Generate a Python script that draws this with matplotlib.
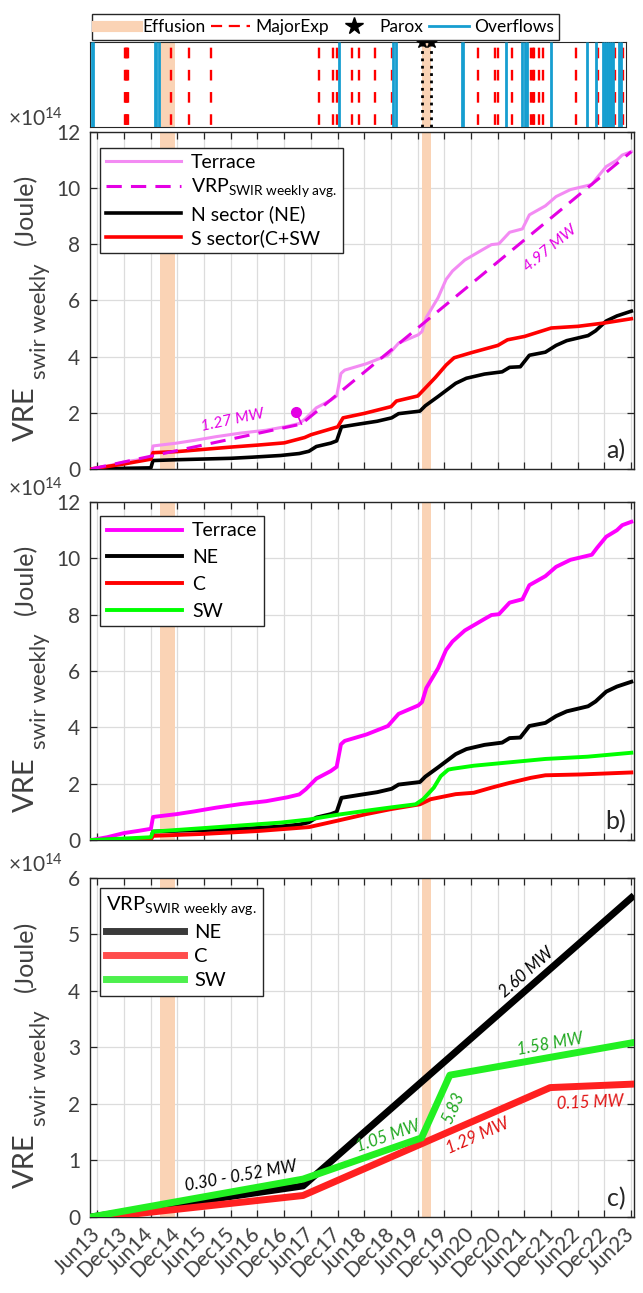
import matplotlib
matplotlib.use('Agg')
import matplotlib.pyplot as plt
from matplotlib.lines import Line2D
import numpy as np

plt.rcParams['font.family'] = ['Lato', 'DejaVu Sans']
plt.rcParams['mathtext.fontset'] = 'custom'
plt.rcParams['mathtext.rm'] = 'Lato'
plt.rcParams['mathtext.it'] = 'Lato:italic'
plt.rcParams['mathtext.bf'] = 'Lato:bold'

# ---- data (time in decimal years, energy in 1e14 J) ----
tick_labels = ['Jun13', 'Dec13', 'Jun14', 'Dec14', 'Jun15', 'Dec15', 'Jun16',
               'Dec16', 'Jun17', 'Dec17', 'Jun18', 'Dec18', 'Jun19', 'Dec19',
               'Jun20', 'Dec20', 'Jun21', 'Dec21', 'Jun22', 'Dec22', 'Jun23']

# events
effusion_start = [2014.60, 2019.50]
effusion_end = [2014.87, 2019.66]
parox = [2019.50, 2019.66]
major_exp = [2013.94, 2013.96, 2013.98, 2014.00, 2014.80, 2015.13, 2015.55,
             2017.57, 2017.83, 2017.91, 2018.19, 2018.31, 2018.62, 2018.93,
             2020.54, 2020.86, 2020.92, 2021.18, 2021.54, 2021.57, 2021.60,
             2021.69, 2021.77, 2022.38, 2022.80, 2023.11, 2023.22, 2023.26]
overflows = [2013.31, 2013.34, 2014.49, 2014.52, 2014.58, 2017.95, 2018.95,
             2019.02, 2020.24, 2020.27, 2021.07, 2021.37, 2021.42, 2021.47,
             2021.91, 2022.59, 2022.76, 2022.88, 2022.92, 2022.96, 2023.00,
             2023.04, 2023.08, 2023.19, 2023.22]

# cumulative VRE, terrace total
t_terrace = [2013.30, 2013.60, 2013.92, 2014.20, 2014.42, 2014.46, 2014.90, 2015.24,
             2015.64, 2016.11, 2016.58, 2016.98, 2017.20, 2017.32, 2017.52, 2017.79,
             2017.90, 2017.98, 2018.05, 2018.46, 2018.86, 2019.06, 2019.43, 2019.50,
             2019.58, 2019.80, 2019.95, 2020.07, 2020.30, 2020.67, 2020.80, 2020.94,
             2021.14, 2021.38, 2021.51, 2021.81, 2022.01, 2022.28, 2022.68, 2022.78,
             2022.95, 2023.15, 2023.25, 2023.42]
terrace = [0.00, 0.10, 0.25, 0.33, 0.40, 0.82, 0.92, 1.02,
           1.15, 1.28, 1.38, 1.52, 1.62, 1.80, 2.18, 2.45,
           2.60, 3.40, 3.52, 3.75, 4.05, 4.48, 4.78, 4.90,
           5.40, 6.10, 6.75, 7.05, 7.44, 7.85, 7.99, 8.02,
           8.43, 8.55, 9.05, 9.37, 9.70, 9.95, 10.13, 10.38,
           10.77, 11.00, 11.18, 11.30]

# N sector (NE)
t_ne = [2013.30, 2014.42, 2014.46, 2014.92, 2015.92, 2016.32, 2016.85, 2017.20,
        2017.38, 2017.52, 2017.79, 2017.90, 2017.99, 2018.32, 2018.66, 2018.93,
        2019.06, 2019.46, 2019.56, 2019.80, 2020.13, 2020.33, 2020.67, 2021.00,
        2021.14, 2021.34, 2021.51, 2021.81, 2022.01, 2022.21, 2022.61, 2022.75,
        2022.95, 2023.15, 2023.42]
ne = [0.00, 0.04, 0.30, 0.33, 0.38, 0.42, 0.48, 0.55,
      0.63, 0.80, 0.92, 1.00, 1.50, 1.60, 1.70, 1.82,
      1.97, 2.06, 2.25, 2.58, 3.05, 3.23, 3.38, 3.46,
      3.62, 3.64, 4.05, 4.16, 4.40, 4.57, 4.75, 4.92,
      5.27, 5.45, 5.62]

# S sector (C+SW)
t_s = [2013.30, 2013.92, 2014.42, 2014.46, 2014.92, 2015.42, 2015.92, 2016.42,
       2016.92, 2017.30, 2017.42, 2017.92, 2018.02, 2018.42, 2018.92, 2019.02,
       2019.42, 2019.52, 2019.75, 2019.95, 2020.10, 2020.42, 2020.92, 2021.10,
       2021.42, 2021.92, 2022.42, 2022.92, 2023.42]
s_sector = [0.00, 0.18, 0.35, 0.58, 0.62, 0.70, 0.78, 0.85,
            0.93, 1.12, 1.22, 1.50, 1.82, 1.98, 2.22, 2.42,
            2.60, 2.80, 3.26, 3.70, 3.96, 4.14, 4.40, 4.60,
            4.72, 5.02, 5.08, 5.20, 5.35]

# C
t_c = [2013.30, 2014.42, 2014.46, 2015.42, 2016.42, 2017.38, 2017.92, 2018.45,
       2018.92, 2019.46, 2019.66, 2020.13, 2020.47, 2020.80, 2021.14, 2021.54,
       2021.81, 2022.48, 2023.42]
c_sector = [0.00, 0.02, 0.15, 0.22, 0.32, 0.46, 0.69, 0.92,
            1.10, 1.27, 1.45, 1.63, 1.68, 1.86, 2.03, 2.21,
            2.30, 2.33, 2.40]

# SW
t_sw = [2013.30, 2014.42, 2014.46, 2015.37, 2016.11, 2016.85, 2017.38, 2017.92,
        2018.45, 2018.92, 2019.38, 2019.52, 2019.72, 2019.85, 2019.99, 2020.07,
        2020.47, 2021.14, 2021.81, 2022.60, 2023.42]
sw_sector = [0.00, 0.10, 0.30, 0.42, 0.52, 0.62, 0.73, 0.90,
             1.04, 1.16, 1.27, 1.45, 1.86, 2.27, 2.50, 2.53,
             2.64, 2.76, 2.88, 2.96, 3.10]

# weekly-average VRP trends
t_vrp = [2013.30, 2017.24, 2023.42]
vrp_terrace = [0.00, 1.60, 11.30]
t_vrp_ne = [2013.30, 2017.27, 2023.42]
vrp_ne = [0.00, 0.55, 5.65]
t_vrp_c = [2013.30, 2017.27, 2021.90, 2023.42]
vrp_c = [-0.03, 0.38, 2.29, 2.35]
t_vrp_sw = [2013.30, 2017.27, 2019.49, 2020.02, 2023.42]
vrp_sw = [0.00, 0.67, 1.40, 2.51, 3.08]
change_t = [2017.14, 2017.24]
change_y = [2.04, 1.60]

# ---- colours ----
peach = '#FAD3B5'
blue = '#169ED0'
pink = '#F38BF3'
magenta = '#E400E4'
grey_txt = '#404040'

tick_pos = [int('20' + s[3:]) + (5 if s[:3] == 'Jun' else 11) / 12 for s in tick_labels]
xlim = (2013.28, 2023.47)

fig = plt.figure(figsize=(6.43, 12.93), dpi=100)
ax_ev = fig.add_axes([0.140, 0.9018, 0.8336, 0.0657])
ax_a = fig.add_axes([0.140, 0.6373, 0.846, 0.2606])
ax_b = fig.add_axes([0.140, 0.3503, 0.846, 0.2614])
ax_c = fig.add_axes([0.140, 0.0588, 0.846, 0.2622])


def style(ax, ymax, ystep, letter):
    ax.set_xlim(*xlim)
    ax.set_ylim(0, ymax)
    ax.set_xticks(tick_pos)
    ax.set_yticks(np.arange(0, ymax + 0.1, ystep))
    ax.grid(True, color='#dcdcdc', lw=0.9)
    ax.set_axisbelow(True)
    ax.tick_params(direction='in', top=True, right=True, length=5, width=0.9,
                   labelsize=15, color='#262626', labelcolor=grey_txt, pad=7)
    for sp in ax.spines.values():
        sp.set_color('#262626')
        sp.set_linewidth(1.0)
    for t0, t1 in zip(effusion_start, effusion_end):
        ax.axvspan(t0, t1, color=peach, lw=0, zorder=1)
    # y label pieces: VRE, subscript, unit
    ax.text(-0.118, 0.165, 'VRE', rotation=90, fontsize=21, color=grey_txt,
            ha='center', va='center', transform=ax.transAxes)
    ax.text(-0.092, 0.44, 'swir weekly', rotation=90, fontsize=16, color=grey_txt,
            ha='center', va='center', transform=ax.transAxes)
    ax.text(-0.118, 0.77, '(Joule)', rotation=90, fontsize=18, color=grey_txt,
            ha='center', va='center', transform=ax.transAxes)
    ax.text(-0.150, 1.005, r'×10$^{14}$', fontsize=15, color=grey_txt,
            ha='left', va='bottom', transform=ax.transAxes)
    ax.text(0.985, 0.02, letter, fontsize=18, color='#262626',
            ha='right', va='bottom', transform=ax.transAxes)


def seg_angle(t, y, i):
    return np.degrees(np.arctan2(y[i + 1] - y[i], t[i + 1] - t[i]))


# ---- events panel ----
ax_ev.set_xlim(xlim[0], 2023.32)
ax_ev.set_ylim(0, 1)
ax_ev.set_xticks([])
ax_ev.set_yticks([])
for sp in ax_ev.spines.values():
    sp.set_color('#262626')
for t0, t1 in zip(effusion_start, effusion_end):
    ax_ev.axvspan(t0, t1, color=peach, lw=0, zorder=1)
ax_ev.vlines(major_exp, 0, 1, colors='#FF0000', linestyles=(8.5, (4.5, 4.9)),
             lw=1.7, zorder=2)
ax_ev.vlines(overflows, 0, 1, colors=blue, lw=2, zorder=3)
ax_ev.vlines(parox, 0, 1, colors='k', linestyles=':', lw=2, zorder=4)
ax_ev.plot(parox, [1] * len(parox), ls='none', marker='*', color='k', ms=9,
           clip_on=False, zorder=5)
ev_handles = [Line2D([], [], color=peach, lw=8),
              Line2D([], [], color='#FF0000', lw=1.6, ls=(0, (5, 3))),
              Line2D([], [], color='k', ls='none', marker='*', ms=13),
              Line2D([], [], color=blue, lw=2)]
ax_ev.legend(ev_handles, ['Effusion', 'MajorExp', 'Parox', 'Overflows'],
             loc='lower left', bbox_to_anchor=(0, 1.0), ncol=4, fontsize=12.5,
             frameon=True, fancybox=False, edgecolor='#262626', framealpha=1,
             handlelength=2.3, columnspacing=0.3, handletextpad=0.3,
             borderpad=0.3, borderaxespad=0.1)

# ---- panel a ----
style(ax_a, 12, 2, 'a)')
ax_a.tick_params(labelbottom=False)
ax_a.plot(t_terrace, terrace, color=pink, lw=2.2, zorder=3, label='Terrace')
ax_a.plot(t_vrp, vrp_terrace, color=magenta, lw=2.2, ls=(0, (5, 3)), zorder=4,
          label=r'VRP$_{\mathregular{SWIR\ weekly\ avg.}}$')
ax_a.plot(t_ne, ne, color='k', lw=2.6, zorder=3, label='N sector (NE)')
ax_a.plot(t_s, s_sector, color='#FF0000', lw=2.6, zorder=3, label='S sector(C+SW')
ax_a.plot(change_t, change_y, color=magenta, lw=1.2, marker='o', ms=7,
          markevery=[0], zorder=5)
ax_a.text(2015.95, 1.72, '1.27 MW', color=magenta, style='italic', fontsize=11.5,
          ha='center', va='center', rotation=seg_angle(t_vrp, vrp_terrace, 0),
          transform_rotates_text=True, rotation_mode='anchor')
ax_a.text(2021.9, 7.85, '4.97 MW', color=magenta, style='italic', fontsize=11.5,
          ha='center', va='center', rotation=seg_angle(t_vrp, vrp_terrace, 1),
          transform_rotates_text=True, rotation_mode='anchor')
ax_a.legend(loc='upper left', bbox_to_anchor=(0.018, 0.953), fontsize=14,
            frameon=True, fancybox=False, edgecolor='#262626', framealpha=1,
            handlelength=3.9, handletextpad=0.5, labelspacing=0.3,
            borderpad=0.3, borderaxespad=0)

# ---- panel b ----
style(ax_b, 12, 2, 'b)')
ax_b.tick_params(labelbottom=False)
ax_b.plot(t_terrace, terrace, color='#FF00FF', lw=2.8, zorder=3, label='Terrace')
ax_b.plot(t_ne, ne, color='k', lw=2.8, zorder=3, label='NE')
ax_b.plot(t_c, c_sector, color='#FF0000', lw=2.8, zorder=3, label='C')
ax_b.plot(t_sw, sw_sector, color='#00FF00', lw=2.8, zorder=3, label='SW')
ax_b.legend(loc='upper left', bbox_to_anchor=(0.018, 0.96), fontsize=14,
            frameon=True, fancybox=False, edgecolor='#262626', framealpha=1,
            handlelength=3.9, handletextpad=0.5, labelspacing=0.5,
            borderpad=0.35, borderaxespad=0)

# ---- panel c ----
style(ax_c, 6, 1, 'c)')
ax_c.set_xticklabels(tick_labels, rotation=45, ha='right', va='center',
                     rotation_mode='anchor')
ax_c.tick_params(axis='x', pad=10)
ax_c.plot(t_vrp_ne, vrp_ne, color='k', lw=5, zorder=3)
ax_c.plot(t_vrp_c, vrp_c, color='#FF2020', lw=5, zorder=3)
ax_c.plot(t_vrp_sw, vrp_sw, color='#22F022', lw=5, zorder=4)
c_handles = [Line2D([], [], color='#3A3A3A', lw=5),
             Line2D([], [], color='#FF4D4D', lw=5),
             Line2D([], [], color='#4DF04D', lw=5)]
ax_c.legend(c_handles, ['NE', 'C', 'SW'], title=r'VRP$_{\mathregular{SWIR\ weekly\ avg.}}$',
            title_fontsize=14.5, alignment='left', loc='upper left',
            bbox_to_anchor=(0.018, 0.97), fontsize=14.5, frameon=True, fancybox=False,
            edgecolor='#262626', framealpha=1, handlelength=3.9, handletextpad=0.5,
            labelspacing=0.35, borderpad=0.3, borderaxespad=0)
green_txt = '#1FA81F'
ax_c.text(2016.1, 0.72, '0.30 - 0.52 MW', color='k', style='italic', fontsize=12,
          ha='center', va='center', rotation=seg_angle(t_vrp_sw, vrp_sw, 0),
          transform_rotates_text=True, rotation_mode='anchor')
ax_c.text(2018.87, 1.42, '1.05 MW', color=green_txt, style='italic', fontsize=12,
          ha='center', va='center', rotation=seg_angle(t_vrp_sw, vrp_sw, 1),
          transform_rotates_text=True, rotation_mode='anchor')
ax_c.text(2020.08, 1.92, '5.83', color=green_txt, style='italic', fontsize=12,
          ha='center', va='center', rotation=seg_angle(t_vrp_sw, vrp_sw, 2),
          transform_rotates_text=True, rotation_mode='anchor')
ax_c.text(2020.55, 1.44, '1.29 MW', color='#E01010', style='italic', fontsize=12,
          ha='center', va='center', rotation=seg_angle(t_vrp_c, vrp_c, 1),
          transform_rotates_text=True, rotation_mode='anchor')
ax_c.text(2021.45, 4.32, '2.60 MW', color='k', style='italic', fontsize=12,
          ha='center', va='center', rotation=seg_angle(t_vrp_ne, vrp_ne, 1),
          transform_rotates_text=True, rotation_mode='anchor')
ax_c.text(2021.9, 3.05, '1.58 MW', color=green_txt, style='italic', fontsize=12,
          ha='center', va='center', rotation=seg_angle(t_vrp_sw, vrp_sw, 3),
          transform_rotates_text=True, rotation_mode='anchor')
ax_c.text(2022.65, 2.02, '0.15 MW', color='#E01010', style='italic', fontsize=12,
          ha='center', va='center', rotation=seg_angle(t_vrp_c, vrp_c, 2),
          transform_rotates_text=True, rotation_mode='anchor')

fig.savefig('out.png', dpi=100)
plt.close('all')
